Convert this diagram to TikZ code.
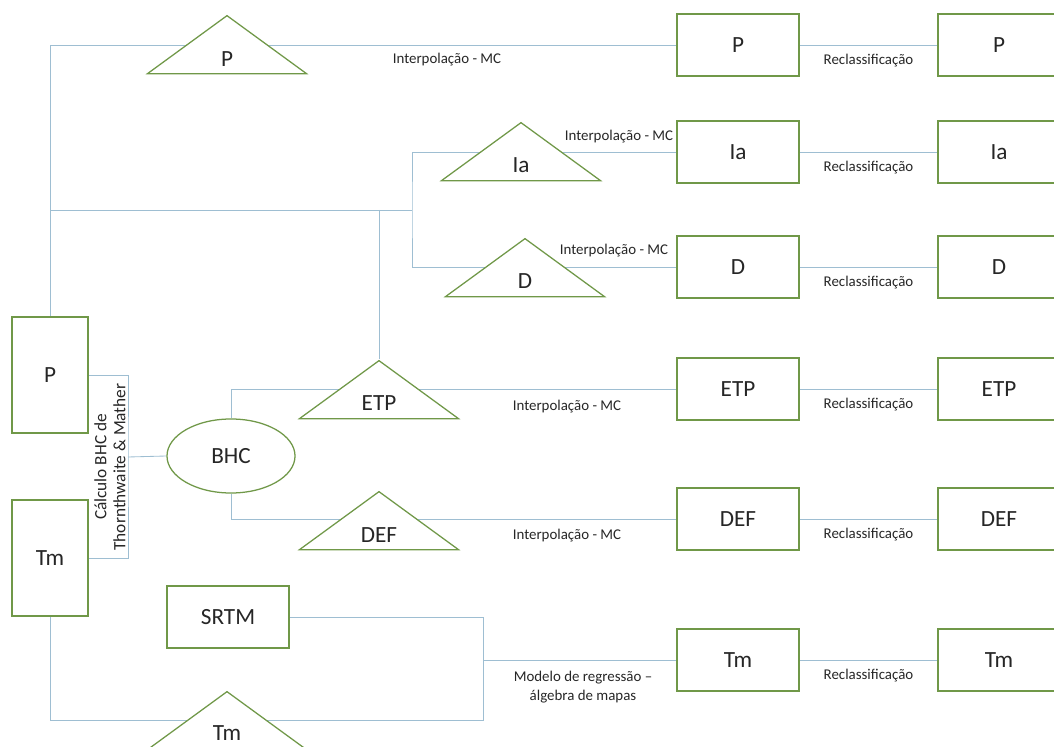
\documentclass[tikz,border=0pt]{standalone}
\usepackage{fontspec}
\setmainfont{Carlito}
\usetikzlibrary{shapes.geometric, backgrounds}
\definecolor{boxgreen}{RGB}{112,152,72}
\definecolor{linkblue}{RGB}{158,190,210}

\begin{document}
\begin{tikzpicture} [x=0.025cm, y=-0.025cm, text=black!85, font=\fontsize{16.5}{18}\selectfont,
	box/.style={rectangle, draw=boxgreen, line width=0.9pt, fill=white, minimum width=3.05cm, minimum height=1.55cm, inner sep=0pt},
	tall/.style={box, minimum width=1.9cm, minimum height=2.9cm},
	tri/.style={isosceles triangle, isosceles triangle stretches, shape border rotate=90, draw=boxgreen, line width=0.9pt, fill=white, minimum width=3.975cm, minimum height=1.45cm, inner sep=0pt, anchor=apex},
	lbl/.style={font=\fontsize{10.6}{14}\selectfont, inner sep=1pt},
	link/.style={draw=linkblue, line width=0.6pt}]
\useasboundingbox (0,0) rectangle (1054,747);

\path (50,375) node[tall] (pL) {P}
	  (50,558) node[tall] (tmL) {Tm}
	  (228,617) node[box] (srtm) {SRTM}
	  (231,456) node[ellipse, draw=boxgreen, line width=0.9pt, fill=white, minimum width=3.2cm, minimum height=1.85cm] (bhc) {BHC}
	  
	  (227,14) node[tri] (triP) {}
	  (521,121) node[tri] (triIa) {}
	  (525,237) node[tri] (triD) {}
	  (379,359) node[tri] (triEtp) {}
	  (379,490) node[tri] (triDef) {}
	  (227,690) node[tri] (triTm) {}
	  
	  (227,59) node (txtP) {P}
	  (521,165) node (txtIa) {Ia}
	  (525,281) node (txtD) {D}
	  (379,403) node (txtEtp) {ETP}
	  (379,535) node (txtDef) {DEF}
	  (227,733) node (txtTm) {Tm}
	  
	  (738,45) node[box] (pM) {P}
	  (999,45) node[box] (pF) {P}
	  (738,152) node[box] (iaM) {Ia}
	  (999,152) node[box] (iaF) {Ia}
	  (738,267) node[box] (dM) {D}
	  (999,267) node[box] (dF) {D}
	  (738,389) node[box] (etpM) {ETP}
	  (999,389) node[box] (etpF) {ETP}
	  (738,519) node[box] (defM) {DEF}
	  (999,519) node[box] (defF) {DEF}
	  (738,660) node[box] (tmM) {Tm}
	  (999,660) node[box] (tmF) {Tm}
	  
(447,60) node[lbl] (intP) {Interpolação - MC}
(619,137) node[lbl] (intIa) {Interpolação - MC}
(614,251) node[lbl] (intD) {Interpolação - MC}
(567,407) node[lbl] (intEtp) {Interpolação - MC}
(567,536) node[lbl] (intDef) {Interpolação - MC}
(583,687) node[lbl, align=center] (regTm) {Modelo de regressão –\\álgebra de mapas}
(110,467) node[rotate=90, align=center, font=\fontsize{12.3}{13.5}\selectfont, inner sep=0pt] (calc) {Cálculo BHC de\\Thornthwaite \& Mather};

\coordinate (jA) at (50,210);
\coordinate (jB) at (412,210);
\coordinate (jC) at (379,210);
\coordinate (jD) at (128,457);
\coordinate (jE) at (483,660);
\coordinate (jF) at (483,720);

\begin{scope}[on background layer]
\draw[link] (pL.north) |- (pM.west);
\draw[link] (jA) to (jB);
\draw[link] (iaM.west) -| (jB) |- (dM.west);
\draw[link] (jC) to (triEtp.apex);
\draw[link] (pL.east) -| (jD) |- (tmL.east);
\draw[link] (jD) to (bhc.west);
\draw[link] (bhc.north) |- (etpM.west);
\draw[link] (bhc.south) |- (defM.west);
\draw[link] (srtm.east) -| (jE) to (tmM.west);
\draw[link] (tmL.south) |- (jF) to (jE);

\draw[link] (pM) to node [lbl, below=5pt] (reP) {Reclassificação} (pF);
\draw[link] (iaM) to node [lbl, below=5pt] (reIa) {Reclassificação} (iaF);
\draw[link] (dM) to node [lbl, below=5pt] (reD) {Reclassificação} (dF);
\draw[link] (etpM) to node [lbl, below=5pt] (reEtp) {Reclassificação} (etpF);
\draw[link] (defM) to node [lbl, below=5pt] (reDef) {Reclassificação} (defF);
\draw[link] (tmM) to node [lbl, below=5pt] (reTm) {Reclassificação} (tmF);
\end{scope}
	  
\end{tikzpicture}
\end{document}
